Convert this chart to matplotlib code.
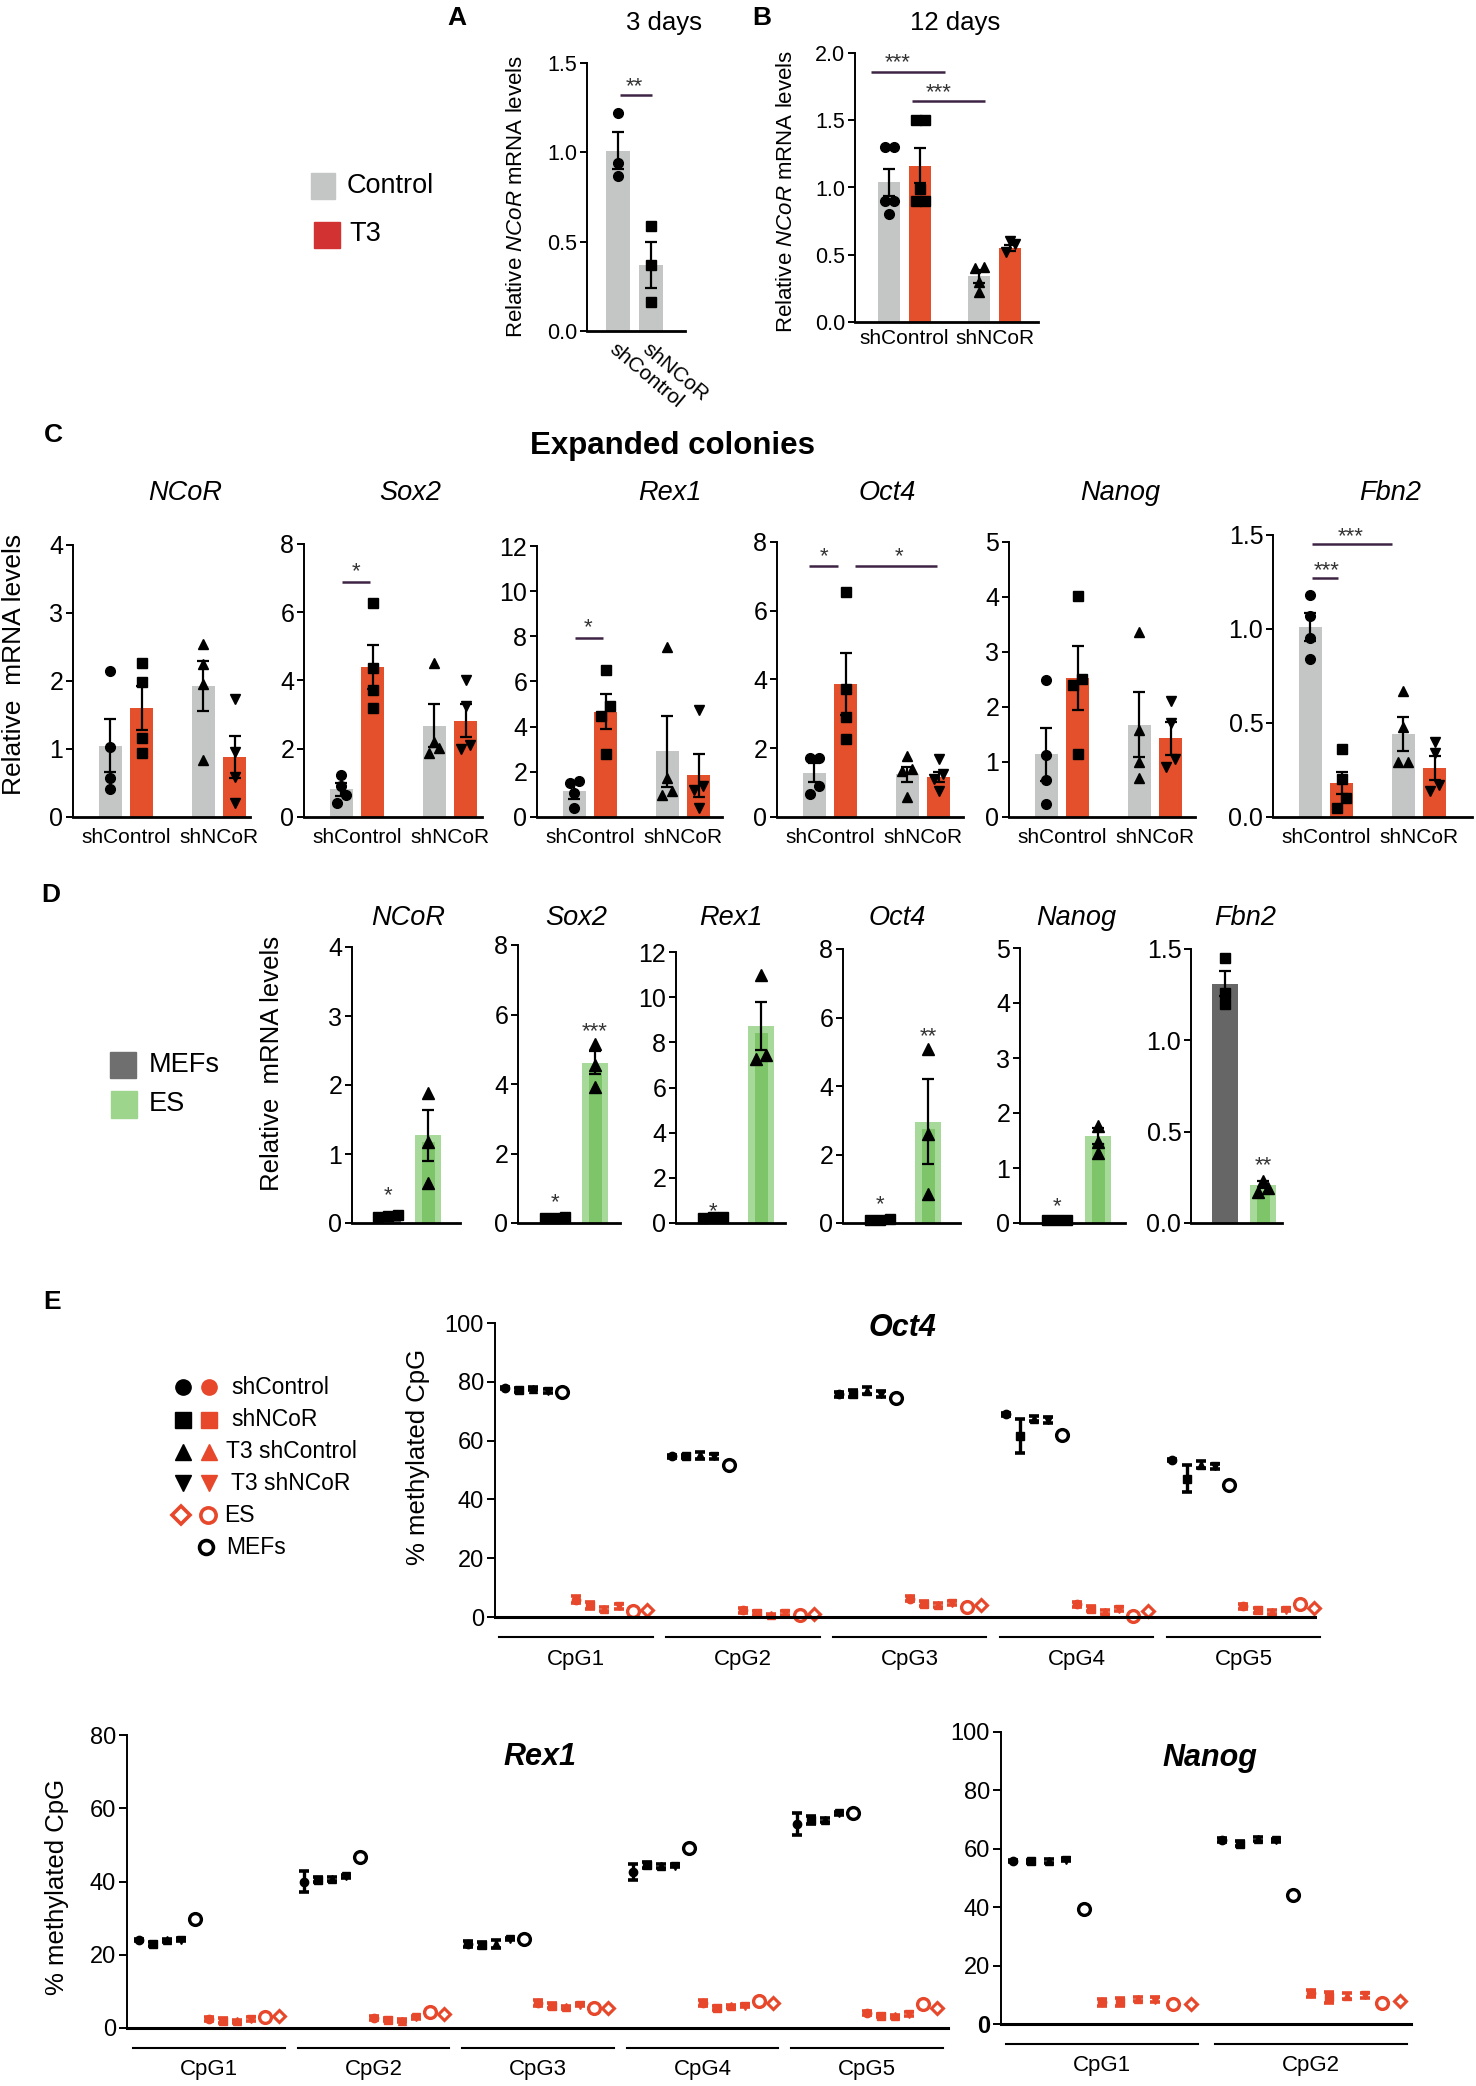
import numpy as np
import matplotlib
matplotlib.use("Agg")
import matplotlib.pyplot as plt
from matplotlib.patches import Rectangle

plt.rcParams["font.family"] = ["Liberation Sans", "DejaVu Sans"]
plt.rcParams["mathtext.fontset"] = "custom"
plt.rcParams["mathtext.rm"] = "Liberation Sans"
plt.rcParams["mathtext.it"] = "Liberation Sans:italic"

# ---------------- data ----------------
# A: NCoR knock-down, 3 days
a_groups = ["shControl", "shNCoR"]
a_mean = [1.01, 0.37]
a_sem = [0.105, 0.13]
a_pts = [[1.22, 0.94, 0.865], [0.59, 0.37, 0.16]]

# B: 12 days, order = shControl/Control, shControl/T3, shNCoR/Control, shNCoR/T3
b_groups = ["shControl", "shNCoR"]
b_mean = [1.04, 1.16, 0.34, 0.55]
b_sem = [0.10, 0.13, 0.05, 0.02]
b_pts = [[1.30, 1.30, 0.90, 0.90, 0.80],
         [1.50, 1.50, 0.99, 0.90, 0.90],
         [0.41, 0.40, 0.30, 0.22],
         [0.60, 0.58, 0.52]]

# C: expanded colonies
genes = ["NCoR", "Sox2", "Rex1", "Oct4", "Nanog", "Fbn2"]
gene_ymax = [4, 8, 12, 8, 5, 1.5]
gene_step = [1, 2, 2, 2, 1, 0.5]
c_mean = [[1.05, 1.60, 1.93, 0.88],
          [0.82, 4.40, 2.68, 2.82],
          [1.14, 4.67, 2.92, 1.84],
          [1.29, 3.87, 1.24, 1.17],
          [1.14, 2.52, 1.68, 1.43],
          [1.01, 0.18, 0.44, 0.26]]
c_sem = [[0.39, 0.32, 0.37, 0.31],
         [0.19, 0.65, 0.62, 0.48],
         [0.36, 0.76, 1.57, 0.96],
         [0.27, 0.91, 0.22, 0.14],
         [0.48, 0.58, 0.59, 0.30],
         [0.075, 0.06, 0.09, 0.065]]
c_pts = [[[2.14, 1.03, 0.57, 0.41], [2.26, 1.98, 1.16, 0.94], [2.55, 2.25, 1.95, 0.84], [1.74, 0.95, 0.59, 0.20]],
         [[1.24, 0.90, 0.65, 0.41], [6.28, 4.36, 3.71, 3.19], [4.51, 2.21, 2.02, 1.87], [4.02, 3.26, 2.10, 2.00]],
         [[1.59, 1.50, 1.07, 0.40], [6.53, 4.90, 4.48, 2.80], [7.52, 1.74, 1.14, 0.99], [4.73, 1.37, 1.20, 0.40]],
         [[1.73, 1.73, 0.90, 0.66], [6.54, 3.72, 2.90, 2.28], [1.78, 1.39, 1.34, 0.58], [1.68, 1.24, 1.10, 0.76]],
         [[2.49, 1.12, 0.67, 0.24], [4.01, 2.50, 2.40, 1.14], [3.37, 1.59, 1.00, 0.70], [2.11, 1.70, 1.06, 0.91]],
         [[1.18, 1.07, 0.95, 0.84], [0.36, 0.20, 0.10, 0.05], [0.67, 0.48, 0.29, 0.29], [0.40, 0.34, 0.17, 0.14]]]
# significance: gene index, x from, x to, line height, star height, star x, label
c_sig = [(1, 0.03, 0.9, 6.88, 7.38, 0.48, "*"),
         (2, 0.03, 0.9, 7.94, 8.68, 0.45, "*"),
         (3, -0.15, 0.75, 7.29, 7.77, 0.30, "*"),
         (3, 1.30, 3.90, 7.29, 7.77, 2.70, "*"),
         (5, 0.06, 0.88, 1.27, 1.35, 0.53, "***"),
         (5, 0.06, 2.60, 1.45, 1.53, 1.27, "***")]

# D: MEFs vs ES
d_mef_mean = [0.10, 0.15, 0.25, 0.10, 0.05, 1.31]
d_mef_sem = [0.01, 0.01, 0.01, 0.01, 0.005, 0.07]
d_mef_pts = [[0.12, 0.10, 0.08], [0.17, 0.15, 0.14], [0.26, 0.25, 0.24],
             [0.12, 0.10, 0.09], [0.06, 0.05, 0.05], [1.45, 1.26, 1.20]]
d_es_mean = [1.27, 4.61, 8.72, 2.95, 1.58, 0.21]
d_es_sem = [0.37, 0.33, 1.08, 1.24, 0.15, 0.02]
d_es_pts = [[1.88, 1.18, 0.58], [5.16, 4.56, 3.90], [10.97, 7.45, 7.26],
            [5.08, 2.59, 0.84], [1.76, 1.48, 1.27], [0.23, 0.19, 0.17]]
d_mef_star = ["*", "*", "*", "*", "*", ""]
d_mef_star_y = [0.44, 0.68, 0.62, 0.62, 0.35, 0]
d_es_star = ["", "***", "", "**", "", "**"]
d_es_star_y = [0, 5.70, 0, 5.64, 0, 0.35]

# E: % methylated CpG ; black = 4 conditions, red = same 4 conditions
oct4_cpg = ["CpG1", "CpG2", "CpG3", "CpG4", "CpG5"]
oct4_black = [[78.0, 77.3, 77.7, 76.8], [54.6, 54.6, 55.0, 54.6], [75.8, 76.0, 77.0, 76.0],
              [68.9, 61.5, 67.5, 67.1], [53.3, 47.1, 51.8, 51.2]]
oct4_black_sem = [[0.4, 0.6, 0.6, 0.6], [0.6, 0.6, 1.2, 0.9], [0.8, 1.2, 1.2, 1.0],
                  [0.4, 5.8, 1.0, 1.0], [0.4, 4.5, 1.1, 0.9]]
oct4_mef = [76.5, 51.6, 74.6, 61.8, 44.8]
oct4_red = [[5.9, 4.0, 2.8, 3.6], [2.3, 1.4, 0.6, 1.4], [6.2, 4.5, 4.0, 4.8],
            [4.3, 2.8, 1.7, 2.8], [3.6, 2.3, 1.7, 2.5]]
oct4_red_sem = [[1.2, 1.2, 0.6, 0.8], [0.8, 0.8, 0.5, 0.6], [0.9, 0.8, 0.6, 0.6],
                [0.9, 0.8, 0.6, 0.6], [0.9, 0.8, 0.6, 0.6]]
oct4_es_circle = [1.9, 0.8, 3.4, 0.2, 4.5]
oct4_es_diamond = [2.5, 1.1, 4.0, 1.9, 3.1]

rex1_cpg = ["CpG1", "CpG2", "CpG3", "CpG4", "CpG5"]
rex1_black = [[24.1, 22.9, 23.9, 24.1], [40.0, 40.5, 40.6, 41.4], [22.9, 22.7, 22.9, 24.3],
              [42.7, 44.5, 44.3, 44.3], [55.7, 56.8, 56.8, 58.6]]
rex1_black_sem = [[0.3, 0.6, 0.5, 0.4], [2.9, 0.6, 0.5, 0.4], [0.9, 0.8, 1.0, 0.4],
                  [2.2, 0.7, 0.5, 0.4], [3.0, 1.2, 0.6, 0.4]]
rex1_mef = [29.8, 46.8, 24.3, 49.1, 58.6]
rex1_red = [[2.5, 2.0, 1.8, 2.5], [2.7, 2.3, 2.0, 2.9], [6.8, 6.1, 5.6, 6.4],
            [6.8, 5.5, 5.9, 6.1], [4.1, 3.4, 3.2, 3.9]]
rex1_red_sem = [[0.5, 0.6, 0.5, 0.5], [0.5, 0.5, 0.4, 0.5], [0.8, 0.6, 0.5, 0.5],
                [0.9, 0.6, 0.5, 0.5], [0.6, 0.5, 0.4, 0.5]]
rex1_es_circle = [3.0, 4.5, 5.5, 7.5, 6.5]
rex1_es_diamond = [3.4, 3.8, 5.5, 6.8, 5.5]

nanog_cpg = ["CpG1", "CpG2"]
nanog_black = [[55.9, 55.7, 55.9, 56.3], [63.1, 61.8, 63.4, 62.9]]
nanog_black_sem = [[0.3, 0.6, 0.6, 0.6], [0.6, 0.8, 0.6, 0.6]]
nanog_mef = [39.4, 44.3]
nanog_red = [[7.4, 7.4, 8.6, 8.3], [10.6, 9.1, 9.5, 9.8]]
nanog_red_sem = [[1.3, 1.4, 0.8, 0.8], [1.2, 2.0, 1.0, 0.9]]
nanog_es_circle = [7.0, 7.2]
nanog_es_diamond = [6.8, 7.8]

legend_e = ["shControl", "shNCoR", "T3 shControl", "T3 shNCoR", "ES", "MEFs"]

# ---------------- style ----------------
GRAY = "#c4c6c6"
ORANGE = "#e4502b"
T3RED = "#d23232"
SIGC = "#3e2444"
MEFC = "#666666"
ES_LIGHT = "#a6d99a"
ES_DARK = "#7ec56a"
ERED = "#e7472b"
SHAPES = ["o", "s", "^", "v"]

W, H = 1476, 2086
fig = plt.figure(figsize=(W / 100, H / 100), dpi=100)
ov = fig.add_axes([0, 0, 1, 1])
ov.set_xlim(0, W)
ov.set_ylim(H, 0)
ov.axis("off")


def add_ax(left, top, right, bottom):
    return fig.add_axes([left / W, 1 - bottom / H, (right - left) / W, (bottom - top) / H])


def spread(vals, tol, step):
    # side-by-side offsets only for points that would overlap
    vals = np.asarray(vals, float)
    offs = np.zeros(len(vals))
    order = np.argsort(vals)
    groups = [[order[0]]]
    for i in order[1:]:
        if vals[i] - vals[groups[-1][0]] < tol:
            groups[-1].append(i)
        else:
            groups.append([i])
    for g in groups:
        for k, i in enumerate(g):
            offs[i] = (k - (len(g) - 1) / 2) * step
    return offs


def style_axes(ax, ymax, step, size, bottom_lw=2.0):
    for s in ["top", "right"]:
        ax.spines[s].set_visible(False)
    ax.spines["left"].set_linewidth(1.4)
    ax.spines["bottom"].set_linewidth(bottom_lw)
    ax.set_ylim(0, ymax)
    ticks = np.arange(0, ymax + step / 2, step)
    ax.set_yticks(ticks)
    fmt = "{:.1f}" if step < 1 else "{:.0f}"
    ax.set_yticklabels([fmt.format(t) for t in ticks])
    ax.tick_params(axis="y", length=5, width=1.4, labelsize=size, pad=2)
    ax.tick_params(axis="x", length=0)
    ax.patch.set_alpha(0)


def bar_panel(ax, pos, means, sems, pts, colors, markers, width, ms, ymax):
    ax.bar(pos, means, width=width, color=colors, zorder=1)
    ax.errorbar(pos, means, yerr=sems, fmt="none", ecolor="black", elinewidth=1.6,
                capsize=4, capthick=1.6, zorder=3)
    for p, vals, m in zip(pos, pts, markers):
        offs = spread(vals, 0.035 * ymax, width * 0.4)
        ax.plot(p + offs, vals, linestyle="none", marker=m, color="black", ms=ms,
                zorder=4, clip_on=False)


def sig(ax, x0, x1, yl, ys, xs, label):
    ax.plot([x0, x1], [yl, yl], color=SIGC, lw=1.8, clip_on=False, solid_capstyle="butt")
    ax.annotate(label, (xs, ys), xytext=(0, -9), textcoords="offset points", ha="center",
                va="baseline", fontsize=16, color="#333333", annotation_clip=False)


# ---------------- A ----------------
axA = add_ax(587, 63, 685, 331)
a_pos = np.arange(2)
bar_panel(axA, a_pos, a_mean, a_sem, a_pts, [GRAY, GRAY], ["o", "s"], 0.7, 7, 1.5)
style_axes(axA, 1.5, 0.5, 15.5)
axA.set_xlim(-0.94, 2.03)
axA.set_xticks(a_pos)
axA.set_xticklabels(a_groups, rotation=-40, ha="left", rotation_mode="anchor", fontsize=15)
axA.tick_params(axis="x", pad=6)
sig(axA, 0.06, 1.03, 1.32, 1.405, 0.48, "**")

# ---------------- B ----------------
axB = add_ax(855, 53, 1038, 322)
b_pos = np.array([0, 1, 2.9, 3.9])
bar_panel(axB, b_pos, b_mean, b_sem, b_pts, [GRAY, ORANGE, GRAY, ORANGE], SHAPES, 0.72, 7, 2.0)
style_axes(axB, 2.0, 0.5, 15.5)
axB.set_xlim(-1.1, 4.8)
axB.set_xticks([0.5, 3.4])
axB.set_xticklabels(b_groups, fontsize=15)
axB.tick_params(axis="x", pad=5)
sig(axB, -0.58, 1.8, 1.86, 1.98, 0.29, "***")
sig(axB, 0.74, 3.1, 1.64, 1.76, 1.61, "***")

ov.text(457, 18, "A", fontsize=19, fontweight="bold", ha="center", va="center")
ov.text(762, 18, "B", fontsize=19, fontweight="bold", ha="center", va="center")
ov.text(664, 23, "3 days", fontsize=18.5, ha="center", va="center")
ov.text(955, 23, "12 days", fontsize=18.5, ha="center", va="center")
ov.text(517, 196, r"Relative $\mathit{NCoR}$ mRNA levels", fontsize=16, rotation=90,
        ha="center", va="center")
ov.text(787, 191, r"Relative $\mathit{NCoR}$ mRNA levels", fontsize=16, rotation=90,
        ha="center", va="center")
ov.add_patch(Rectangle((311, 173), 24, 26, color=GRAY))
ov.add_patch(Rectangle((314, 222), 26, 26, color=T3RED))
ov.text(347, 186, "Control", fontsize=19.5, va="center")
ov.text(349, 234, "T3", fontsize=19.5, va="center")

# ---------------- C ----------------
c_left = [73, 304, 537, 777, 1009, 1273]
c_right = [250, 482, 722, 963, 1195, 1472]
c_top = [545, 544, 546, 542, 542, 535]
c_title_x = [185, 410, 670, 887, 1120, 1390]
c_pos = np.array([0, 1, 2.95, 3.95])
c_axes = []
for i in range(6):
    ax = add_ax(c_left[i], c_top[i], c_right[i], 817)
    bar_panel(ax, c_pos, c_mean[i], c_sem[i], c_pts[i], [GRAY, ORANGE, GRAY, ORANGE],
              SHAPES, 0.73, 7, gene_ymax[i])
    style_axes(ax, gene_ymax[i], gene_step[i], 18)
    ax.set_xlim(-1.18, -1.18 + (c_right[i] - c_left[i]) / 31.5)
    ax.set_xticks([0.5, 3.45])
    ax.set_xticklabels(b_groups, fontsize=15)
    ax.tick_params(axis="x", pad=8)
    ov.text(c_title_x[i], 493, genes[i], fontsize=19.5, style="italic", ha="center", va="center")
    c_axes.append(ax)
for g, x0, x1, yl, ys, xs, lab in c_sig:
    sig(c_axes[g], x0, x1, yl, ys, xs, lab)

ov.text(53, 435, "C", fontsize=19, fontweight="bold", ha="center", va="center")
ov.text(672, 446, "Expanded colonies", fontsize=22.5, fontweight="bold", ha="center", va="center")
ov.text(14, 664, "Relative  mRNA levels", fontsize=19, rotation=90, ha="center", va="center")

# ---------------- D ----------------
d_left = [352, 518, 676, 843, 1020, 1191]
d_right = [460, 620, 785, 960, 1125, 1282]
d_top = [947, 945, 952, 949, 948, 949]
d_bar_px = [(388, 428), (555, 595), (713, 761), (880, 928), (1057, 1098), (1225, 1263)]
d_title_x = [408, 576, 731, 897, 1076, 1245]
for i in range(6):
    ax = add_ax(d_left[i], d_top[i], d_right[i], 1223)
    u = d_bar_px[i][1] - d_bar_px[i][0]
    bw = 26 / u
    ymax = gene_ymax[i]
    ax.bar([0], [d_mef_mean[i]], width=bw, color=MEFC, zorder=1)
    ax.bar([1], [d_es_mean[i]], width=bw, color=ES_LIGHT, zorder=1)
    ax.bar([1], [d_es_mean[i] - 0.025 * ymax], width=bw * 0.5, color=ES_DARK, zorder=1)
    ax.errorbar([0, 1], [d_mef_mean[i], d_es_mean[i]], yerr=[d_mef_sem[i], d_es_sem[i]],
                fmt="none", ecolor="black", elinewidth=1.6, capsize=4, capthick=1.6, zorder=3)
    for p, vals, m, ms in [(0, d_mef_pts[i], "s", 6.5), (1, d_es_pts[i], "^", 8)]:
        offs = spread(vals, 0.03 * ymax, bw * 0.4)
        ax.plot(p + offs, vals, linestyle="none", marker=m, color="black", ms=ms,
                zorder=4, clip_on=False)
    style_axes(ax, ymax, gene_step[i], 18)
    ax.set_xlim((d_left[i] - d_bar_px[i][0]) / u, (d_right[i] - d_bar_px[i][0]) / u)
    ax.set_xticks([])
    if d_mef_star[i]:
        ax.annotate(d_mef_star[i], (0, d_mef_star_y[i]), xytext=(0, -6), textcoords="offset points",
                    ha="center", va="baseline", fontsize=16, color="#333333", annotation_clip=False)
    if d_es_star[i]:
        ax.annotate(d_es_star[i], (1, d_es_star_y[i]), xytext=(0, -9), textcoords="offset points",
                    ha="center", va="baseline", fontsize=16, color="#333333", annotation_clip=False)
    ov.text(d_title_x[i], 918, genes[i], fontsize=19.5, style="italic", ha="center", va="center")

ov.text(51, 895, "D", fontsize=19, fontweight="bold", ha="center", va="center")
ov.text(272, 1063, "Relative  mRNA levels", fontsize=18.5, rotation=90, ha="center", va="center")
ov.add_patch(Rectangle((110, 1052), 26, 26, color="#6f6f6f"))
ov.add_patch(Rectangle((111, 1091), 26, 27, color="#9dd58c"))
ov.text(149, 1065, "MEFs", fontsize=19.5, va="center")
ov.text(149, 1104, "ES", fontsize=19.5, va="center")

# ---------------- E ----------------
GSTEP = 11.75


def meth_panel(box, unit, first, title, cpg, black, bsem, mef, red, rsem, eso, esd,
               ymax, title_xy):
    left, top, right, bottom = box
    ax = add_ax(left, top, right, bottom)
    hpx = bottom - top
    for g in range(len(cpg)):
        base = g * GSTEP
        for k in range(4):
            ax.errorbar(base + k, black[g][k], yerr=bsem[g][k], fmt=SHAPES[k], color="black",
                        ms=6, elinewidth=2.4, capsize=3.5, capthick=2.6, clip_on=False)
        ax.plot(base + 4, mef[g], "o", mfc="white", mec="black", mew=2.4, ms=8.5, clip_on=False)
        for k in range(4):
            ax.errorbar(base + 5 + k, red[g][k], yerr=rsem[g][k], fmt=SHAPES[k], color=ERED,
                        ms=6, elinewidth=2.4, capsize=3.5, capthick=2.6, clip_on=False)
        ax.plot(base + 9, eso[g], "o", mfc="white", mec=ERED, mew=2.4, ms=8.5, clip_on=False)
        ax.plot(base + 10, esd[g], "D", mfc="white", mec=ERED, mew=2.2, ms=6.5, clip_on=False)
        ax.plot([base - 0.4, base + 10.4], [-20 / hpx, -20 / hpx], color="black", lw=1.5,
                transform=ax.get_xaxis_transform(), clip_on=False)
        ax.text(base + 5, -42 / hpx, cpg[g], transform=ax.get_xaxis_transform(),
                ha="center", va="center", fontsize=16)
    style_axes(ax, ymax, 20, 17, bottom_lw=2.2)
    ax.tick_params(axis="y", length=6)
    ax.set_xlim(-first / unit, -first / unit + (right - left) / unit)
    ax.set_xticks([])
    ov.text(title_xy[0], title_xy[1], title, fontsize=22, fontweight="bold", style="italic",
            ha="center", va="center")
    return ax


meth_panel((495, 1323, 1315, 1617), 14.2, 10, "Oct4", oct4_cpg, oct4_black, oct4_black_sem,
           oct4_mef, oct4_red, oct4_red_sem, oct4_es_circle, oct4_es_diamond, 100, (902, 1328))
meth_panel((127, 1735, 948, 2028), 14.0, 12, "Rex1", rex1_cpg, rex1_black, rex1_black_sem,
           rex1_mef, rex1_red, rex1_red_sem, rex1_es_circle, rex1_es_diamond, 80, (540, 1757))
axN = meth_panel((1001, 1732, 1411, 2024), 17.8, 12, "Nanog", nanog_cpg, nanog_black,
                 nanog_black_sem, nanog_mef, nanog_red, nanog_red_sem, nanog_es_circle,
                 nanog_es_diamond, 100, (1210, 1758))
axN.get_yticklabels()[0].set_fontweight("bold")

ov.text(52, 1302, "E", fontsize=19, fontweight="bold", ha="center", va="center")
ov.text(418, 1457, "% methylated CpG", fontsize=18.5, rotation=90, ha="center", va="center")
ov.text(57, 1887, "% methylated CpG", fontsize=18.5, rotation=90, ha="center", va="center")

# legend for E
row_y = [1387, 1420, 1452, 1483, 1515, 1547]
text_x = [231, 231, 226, 231, 224, 226]
for r in range(4):
    ov.plot(183, row_y[r], SHAPES[r], color="black", ms=11)
    ov.plot(209, row_y[r], SHAPES[r], color=ERED, ms=11)
ov.plot(181, row_y[4], "D", mfc="white", mec=ERED, mew=2.6, ms=9)
ov.plot(208, row_y[4], "o", mfc="white", mec=ERED, mew=2.6, ms=11)
ov.plot(206, row_y[5], "o", mfc="white", mec="black", mew=2.6, ms=10)
for r in range(6):
    ov.text(text_x[r], row_y[r], legend_e[r], fontsize=16.5, va="center")

fig.savefig("out.png", dpi=100)
